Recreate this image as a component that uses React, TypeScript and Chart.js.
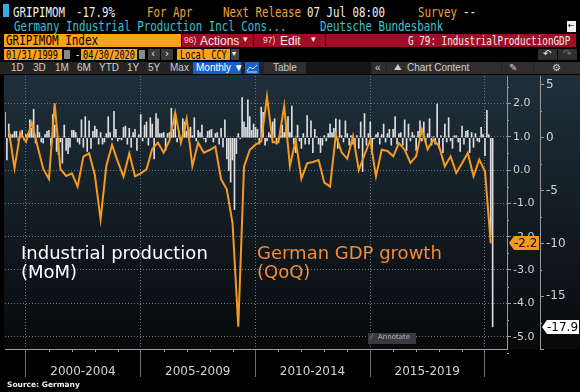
import React, { useEffect, useRef } from 'react';
import { Chart, registerables } from 'chart.js';

Chart.register(...registerables);

// ---------------- DATA ----------------
const START_YEAR = 1999;

// Germany industrial production, MoM %, monthly (Jan 1999 .. Apr 2020)
const ip1999 = [2.4, -2.1, 1.3, 0.3, 0.3, 0.6, 0.6, -0.3, 0.4, 0.7, -0.2, 0.3];
const ip2000 = [0.4, 1.7, 0.9, 2.7, -0.5, 1.2, 0.5, -0.4, -0.5, 0.3, 0.6, 0.7];
const ip2001 = [-0.7, 2.2, 1.2, -1.3, -1.6, -0.4, -2.4, 1.2, -1.2, -1.5, -0.9, 0.7];
const ip2002 = [0.7, 0.5, -0.4, -0.6, 1.7, -0.9, 2.0, -1.3, 1.6, -1.0, 0.6, 1.1];
const ip2003 = [0.8, -0.6, 0.5, -0.6, -0.4, 0.4, 2.0, 0.5, -0.2, 2.5, 0.8, -0.3];
const ip2004 = [-0.1, -0.2, 1.0, 1.1, -0.6, 0.9, -0.9, 0.5, 0.8, -1.2, 0.3, 2.2];
const ip2005 = [-0.3, 1.2, 1.5, -0.7, 1.9, 1.3, -2.0, 2.3, 1.8, 0.4, 0.4, 0.5];
const ip2006 = [-1.2, 0.4, 0.5, 2.8, 0.8, 1.9, -0.4, 0.6, -0.1, 1.8, 1.5, 0.6];
const ip2007 = [0.8, 1.0, 0.2, 1.9, -0.3, 0.7, 0.5, 1.2, -0.1, -0.4, 0.6, 0.7];
const ip2008 = [0.8, -0.4, 0.4, 0.5, -0.6, 0.9, -0.9, 1.7, -2.0, -3.1, -4.2, -2.1];
const ip2009 = [-6.8, -1.5, 0.4, -0.1, 3.8, 1.5, 1.0, 3.6, 2.0, 0.7, 1.3, 1.0];
const ip2010 = [0.8, -0.6, 2.9, 2.4, -0.7, -0.3, 0.5, 0.3, 1.5, 1.8, -0.6, -0.1];
const ip2011 = [0.2, 1.2, 0.5, 1.0, 2.0, 0.5, 3.0, -0.6, -1.4, 1.2, -0.3, -1.0];
const ip2012 = [0.4, -0.6, 2.1, -0.6, 1.6, -1.4, 0.8, 0.1, -0.6, -1.4, -0.7, 0.2];
const ip2013 = [-0.3, 0.4, 1.3, 0.5, 0.9, 1.8, -1.0, 1.7, 0.2, -0.4, 1.6, 0.4];
const ip2014 = [-0.7, 0.2, -0.6, -0.9, 0.2, -1.0, 1.5, -3.2, 2.3, -0.7, 0.4, 1.5];
const ip2015 = [-1.5, -0.1, 0.3, 0.5, -0.6, 0.3, 1.3, -0.4, 0.4, 0.8, -0.7, 0.8];
const ip2016 = [2.0, -0.6, 0.4, 0.5, -0.7, 1.7, -1.2, 1.3, -0.3, 0.5, 0.2, -1.2];
const ip2017 = [0.6, 1.6, -0.3, 1.5, -0.4, 0.4, 1.8, -0.7, 0.1, -0.6, 3.2, -1.0];
const ip2018 = [0.2, -1.4, 1.3, -0.4, 1.9, -0.3, -1.0, 0.2, 0.2, -0.4, -1.3, 1.1];
const ip2019 = [-0.6, 0.6, 0.7, -1.4, 0.5, -0.9, 0.4, -0.3, -0.4, 1.0, 0.3, -1.7];
const ip2020 = [2.6, 0.3, -9.2, -17.9];

const ipMoM = [
  ...ip1999, ...ip2000, ...ip2001, ...ip2002, ...ip2003, ...ip2004, ...ip2005,
  ...ip2006, ...ip2007, ...ip2008, ...ip2009, ...ip2010, ...ip2011, ...ip2012,
  ...ip2013, ...ip2014, ...ip2015, ...ip2016, ...ip2017, ...ip2018, ...ip2019, ...ip2020,
];

// German GDP growth, QoQ %, quarterly (1999 Q1 .. 2020 Q1)
const gdp1999_2003 = [1.2, 0.05, 1.12, 0.85, 1.42, 0.72, 0.04, -0.27, 2.0, 0.03, -0.18, -0.1, -0.5, 0.4, 0.5, -0.15, -1.48, 0.12, 0.75, 0.25];
const gdp2004_2008 = [-0.2, 0.5, -0.19, -0.1, 0.02, 0.63, 0.82, 0.52, 0.88, 1.72, 0.82, 1.54, 0.12, 0.82, 0.52, 0.6, 0.7, -0.28, -0.58, -1.6];
const gdp2009_2013 = [-4.7, 0.1, 0.6, 0.76, 0.86, 2.2, 0.83, 0.83, 1.92, 0.12, 0.9, -0.26, 0.2, 0.24, 0.3, -0.38, -0.5, 1.05, 0.53, 0.34];
const gdp2014_2018 = [1.02, 0.0, 0.45, 0.9, -0.19, 0.61, 0.57, 0.41, 0.81, 0.61, 0.21, 0.41, 1.21, 0.62, 0.91, 0.71, 0.11, 0.41, -0.09, 0.2];
const gdp2019_2020 = [0.51, -0.19, 0.31, -0.04, -2.2];
const gdpQoQ = [...gdp1999_2003, ...gdp2004_2008, ...gdp2009_2013, ...gdp2014_2018, ...gdp2019_2020];

const periodStarts = [2000, 2005, 2010, 2015, 2020];
const periodLabels = ['2000-2004', '2005-2009', '2010-2014', '2015-2019', ''];
const gdpTicks = [-5, -4, -3, -2, -1, 0, 1, 2];
const ipTicks = [-20, -15, -10, -5, 0, 5];

// ---------------- STYLE ----------------
const MONO = '"DejaVu Sans Mono", monospace';
const SANS = '"DejaVu Sans", sans-serif';
const ARIAL = '"Liberation Sans", Arial, sans-serif';
const AMBER = '#f2a23a';
const BOX_ORANGE = '#f8a11c';
const RED = '#a10c27';
const CYAN = '#3fc2d2';
const LINE_ORANGE = '#f59a1f';
const TEXT_ORANGE = '#f28b3a';
const AXIS_GRAY = '#9a9a9a';
const LABEL_GRAY = '#d2d2d2';
const GRID = '#6a777f';

function T(p: any) {
  const s = p.s ?? 14;
  return (
    <div
      style={{
        position: 'absolute', left: p.x, top: p.y, color: p.c ?? '#f0f0f0',
        fontFamily: p.f ?? MONO, fontSize: s, lineHeight: `${p.lh ?? s}px`,
        fontWeight: p.b ? 'bold' : 'normal', transform: `scaleX(${p.sx ?? 1})`,
        transformOrigin: '0 0', whiteSpace: 'pre',
      }}
    >
      {p.children}
    </div>
  );
}

function Box(p: any) {
  return (
    <div style={{ position: 'absolute', left: p.x, top: p.y, width: p.w, height: p.h, background: p.bg }} />
  );
}

const bgPlugin = {
  id: 'bgGradient',
  beforeDraw(chart: any) {
    const { ctx, chartArea } = chart;
    const g = ctx.createLinearGradient(0, chartArea.top, 0, chartArea.bottom);
    g.addColorStop(0, '#1f2f3b');
    g.addColorStop(0.5, '#131d24');
    g.addColorStop(1, '#07090b');
    ctx.save();
    ctx.fillStyle = g;
    ctx.fillRect(4, 0, chart.width - 4, chartArea.bottom);
    ctx.restore();
  },
};

const minorPlugin = {
  id: 'minorTicks',
  afterDraw(chart: any) {
    const { ctx, scales } = chart;
    const x = scales.x, yG = scales.yG, yB = scales.yB;
    ctx.save();
    ctx.strokeStyle = AXIS_GRAY;
    ctx.lineWidth = 1;
    ctx.beginPath();
    for (let v = -5.5; v <= 2.5; v += 1) {
      const y = Math.round(yG.getPixelForValue(v)) + 0.5;
      ctx.moveTo(yG.left, y); ctx.lineTo(yG.left + 2, y);
    }
    for (let v = -17.5; v <= 5; v += 5) {
      const y = Math.round(yB.getPixelForValue(v)) + 0.5;
      ctx.moveTo(yB.left, y); ctx.lineTo(yB.left + 2, y);
    }
    for (let yr = 2000; yr <= 2020; yr++) {
      if (yr % 5 === 0) continue;
      const px = Math.round(x.getPixelForValue(yr)) + 0.5;
      ctx.moveTo(px, x.top); ctx.lineTo(px, x.top + 3);
    }
    ctx.stroke();
    ctx.restore();
  },
};

function drawTag(ctx: any, xTip: number, y: number, w: number, fill: string, text: string, font: string) {
  ctx.beginPath();
  ctx.moveTo(xTip, y);
  ctx.lineTo(xTip + 5, y - 7);
  ctx.lineTo(xTip + w, y - 7);
  ctx.lineTo(xTip + w, y + 7);
  ctx.lineTo(xTip + 5, y + 7);
  ctx.closePath();
  ctx.fillStyle = fill;
  ctx.fill();
  ctx.fillStyle = '#000';
  ctx.font = font;
  ctx.textBaseline = 'middle';
  ctx.textAlign = 'left';
  ctx.fillText(text, xTip + 5, y + 0.5);
}

const tagPlugin = {
  id: 'lastTags',
  afterDraw(chart: any) {
    const { ctx, scales } = chart;
    const lastG = gdpQoQ[gdpQoQ.length - 1];
    const lastB = ipMoM[ipMoM.length - 1];
    ctx.save();
    drawTag(ctx, scales.yG.left + 2, Math.round(scales.yG.getPixelForValue(lastG)), 30, '#f39a1e', lastG.toFixed(1), `12px ${SANS}`);
    drawTag(ctx, scales.yB.left + 2, Math.round(scales.yB.getPixelForValue(lastB)), 37, '#ffffff', lastB.toFixed(1), `12px ${SANS}`);
    ctx.restore();
  },
};

export default function App() {
  const ref = useRef<HTMLCanvasElement>(null);

  useEffect(() => {
    const canvas = ref.current;
    if (!canvas) return;
    const barData = ipMoM.map((v, i) => ({ x: START_YEAR + (i + 1) / 12, y: v }));
    const lineData = gdpQoQ.map((v, i) => ({ x: START_YEAR + (i + 1) * 0.25, y: v }));

    const chart = new Chart(canvas, {
      type: 'bar',
      data: {
        datasets: [
          {
            type: 'line', label: 'German GDP growth (QoQ)', data: lineData,
            xAxisID: 'x', yAxisID: 'yG', borderColor: LINE_ORANGE, borderWidth: 2,
            pointRadius: 0, tension: 0, order: 0, fill: false,
          } as any,
          {
            type: 'bar', label: 'Industrial production (MoM)', data: barData,
            xAxisID: 'x', yAxisID: 'yB', backgroundColor: 'rgba(232,232,232,0.95)',
            barThickness: 1, order: 1,
          } as any,
        ],
      },
      options: {
        animation: false,
        responsive: false,
        devicePixelRatio: 1,
        layout: { padding: { left: 5, top: 1, right: 0, bottom: 0 } },
        plugins: { legend: { display: false }, tooltip: { enabled: false } },
        scales: {
          x: {
            type: 'linear', position: 'bottom', min: 1999.085, max: 2020.959, offset: false,
            afterBuildTicks: (s: any) => { s.ticks = periodStarts.map((v) => ({ value: v })); },
            afterFit: (s: any) => { s.height = 43; s.paddingLeft = 0; s.paddingRight = 0; },
            ticks: {
              autoSkip: false, maxRotation: 0, minRotation: 0, labelOffset: 57, padding: -12,
              color: LABEL_GRAY, font: { family: SANS, size: 12 },
              callback: (v: any) => periodLabels[periodStarts.indexOf(Number(v))] ?? '',
            },
            grid: { offset: false, color: GRID, tickColor: '#6c6c6c', tickLength: 28, tickBorderDash: [] },
            border: { display: true, color: AXIS_GRAY, dash: [1, 2] },
          },
          yG: {
            type: 'linear', position: 'right', weight: 0, min: -5.37, max: 2.82,
            afterBuildTicks: (s: any) => { s.ticks = gdpTicks.map((v) => ({ value: v })); },
            afterFit: (s: any) => { s.width = 33; s.paddingTop = 0; s.paddingBottom = 0; },
            ticks: {
              padding: 2, color: LABEL_GRAY, font: { family: SANS, size: 11 },
              callback: (v: any) => Number(v).toFixed(1),
            },
            grid: { color: GRID, tickColor: AXIS_GRAY, tickLength: 4, tickBorderDash: [] },
            border: { display: true, color: AXIS_GRAY, dash: [1, 2] },
          },
          yB: {
            type: 'linear', position: 'right', weight: 1, min: -20, max: 5.85,
            afterBuildTicks: (s: any) => { s.ticks = ipTicks.map((v) => ({ value: v })); },
            afterFit: (s: any) => { s.width = 40; s.paddingTop = 0; s.paddingBottom = 0; },
            ticks: {
              padding: 2, color: LABEL_GRAY, font: { family: SANS, size: 12 },
              callback: (v: any) => (Number(v) === -20 ? '' : String(v)),
            },
            grid: { drawOnChartArea: false, tickColor: AXIS_GRAY, tickLength: 4 },
            border: { display: true, color: AXIS_GRAY },
          },
        },
      } as any,
      plugins: [bgPlugin, minorPlugin, tagPlugin],
    });
    return () => chart.destroy();
  }, []);

  const tb = { s: 10, f: ARIAL, c: '#cfcfcf', y: 63 };

  return (
    <div style={{ position: 'absolute', left: 0, top: 0, width: 580, height: 392, background: '#000', overflow: 'hidden', fontFamily: SANS }}>
      {/* Row 1 */}
      <Box x={3} y={4} w={6} h={13} bg="#36a8ec" />
      <T x={13} y={5} sx={0.77}>GRIPIMOM</T>
      <T x={76} y={5} sx={0.77}>-17.9%</T>
      <T x={147} y={5} sx={0.77} c={AMBER}>For Apr</T>
      <T x={223} y={5} sx={0.77} c={AMBER}>Next Release</T>
      <T x={307} y={5} sx={0.77}>07 Jul 08:00</T>
      <T x={418} y={5} sx={0.77} c={AMBER}>Survey</T>
      <T x={463} y={5} sx={0.77}>--</T>

      {/* Row 2 */}
      <T x={14} y={19} sx={0.77} c={CYAN}>Germany Industrial Production Incl Cons...</T>
      <T x={320} y={19} sx={0.77} c={CYAN}>Deutsche Bundesbank</T>
      <Box x={567} y={21} w={9} h={11} bg="#eeeeee" />
      <T x={568} y={22} s={8} f={SANS} c="#000">←</T>

      {/* Row 3 */}
      <Box x={4} y={34} w={177} h={13} bg={BOX_ORANGE} />
      <T x={6} y={33} sx={0.78} c="#000">GRIPIMOM Index</T>
      <Box x={182} y={34} w={71} h={13} bg={RED} />
      <T x={184} y={36} s={8.5} f={ARIAL} c="#f3d6d6">96)</T>
      <T x={200} y={34.5} s={12} f={ARIAL}>Actions</T>
      <T x={243} y={35} s={9} f={SANS}>▾</T>
      <Box x={254} y={34} w={71} h={13} bg={RED} />
      <T x={263} y={36} s={8.5} f={ARIAL} c="#f3d6d6">97)</T>
      <T x={280} y={34.5} s={12} f={ARIAL}>Edit</T>
      <T x={311} y={35} s={9} f={SANS}>▾</T>
      <Box x={326} y={34} w={250} h={13} bg={RED} />
      <T x={408} y={33.5} s={13} sx={0.715}>G 79: IndustrialProductionGDP</T>

      {/* Row 4 */}
      <Box x={4} y={49} w={58} h={11} bg={BOX_ORANGE} />
      <T x={6} y={49} s={12} sx={0.72} c="#000">01/31/1999</T>
      <Box x={64} y={50} w={6} h={9} bg="#8a8a8a" />
      <T x={75} y={49} s={12} sx={0.72}>-</T>
      <Box x={81} y={49} w={56} h={11} bg={BOX_ORANGE} />
      <T x={83} y={49} s={12} sx={0.72} c="#000">04/30/2020</T>
      <Box x={139} y={50} w={6} h={9} bg="#8a8a8a" />
      <Box x={148} y={49} w={12} h={11} bg="#3a3a3a" />
      <T x={151} y={49} s={10} f={SANS}>‹</T>
      <Box x={161} y={49} w={12} h={11} bg="#3a3a3a" />
      <T x={165} y={49} s={10} f={SANS}>›</T>
      <Box x={177} y={49} w={53} h={11} bg={BOX_ORANGE} />
      <T x={180} y={49} s={12} sx={0.72} c="#000">Local CCY</T>
      <Box x={231} y={49} w={8} h={11} bg="#444" />
      <T x={232} y={50} s={8} f={SANS}>▾</T>
      <Box x={538} y={49} w={19} h={11} bg="#2e2e2e" />
      <T x={543} y={49} s={10} f={SANS}>↶</T>
      <Box x={558} y={49} w={19} h={11} bg="#2e2e2e" />
      <T x={563} y={49} s={10} f={SANS} c="#777">↷</T>

      {/* Row 5 toolbar */}
      <Box x={0} y={62} w={580} h={12} bg="#242424" />
      <T x={11} {...tb}>1D</T>
      <T x={33} {...tb}>3D</T>
      <T x={55} {...tb}>1M</T>
      <T x={77} {...tb}>6M</T>
      <T x={99} {...tb}>YTD</T>
      <T x={127} {...tb}>1Y</T>
      <T x={148} {...tb}>5Y</T>
      <T x={170} {...tb}>Max</T>
      <Box x={193} y={62} w={48} h={12} bg="#1b5fc9" />
      <T x={196} {...tb} c="#ffffff">Monthly ▼</T>
      <Box x={245} y={62} w={14} h={12} bg="#1b5fc9" />
      <svg style={{ position: 'absolute', left: 246, top: 63 }} width={12} height={10}>
        <polyline points="1,8 4,4 7,6 11,2" fill="none" stroke="#cfe3ff" strokeWidth={1} />
        <line x1={1} y1={9} x2={11} y2={9} stroke="#cfe3ff" strokeWidth={1} />
      </svg>
      <Box x={264} y={62} w={42} h={12} bg="#2e2e2e" />
      <T x={273} {...tb}>Table</T>
      <Box x={306} y={62} w={65} h={12} bg="#161616" />
      <Box x={372} y={62} w={14} h={12} bg="#2e2e2e" />
      <T x={375} {...tb}>«</T>
      <Box x={387} y={62} w={114} h={12} bg="#2e2e2e" />
      <T x={394} {...tb} s={9}>⛰</T>
      <T x={407} {...tb}>Chart Content</T>
      <Box x={502} y={62} w={31} h={12} bg="#2e2e2e" />
      <T x={509} {...tb}>✎</T>
      <Box x={534} y={62} w={46} h={12} bg="#2e2e2e" />
      <T x={552} {...tb}>⚙</T>

      <canvas
        ref={ref}
        width={580}
        height={317}
        style={{ position: 'absolute', left: 0, top: 75, width: 580, height: 317 }}
      />

      {/* Annotations in chart */}
      <T x={21} y={243} s={18} lh={20} f={SANS} c="#ffffff">Industrial production</T>
      <T x={21} y={262} s={18} lh={20} f={SANS} c="#ffffff">(MoM)</T>
      <T x={257} y={243} s={18} lh={20} f={SANS} c={TEXT_ORANGE}>German GDP growth</T>
      <T x={257} y={262} s={18} lh={20} f={SANS} c={TEXT_ORANGE}>(QoQ)</T>

      <Box x={368} y={333} w={48} h={11} bg="rgba(58,62,66,0.95)" />
      <T x={371} y={334} s={7} f={SANS} c="#9a9a9a">⁄</T>
      <T x={378} y={334} s={7} f={SANS} c="#b0b0b0">Annotate</T>

      <T x={7} y={381} s={7.5} f={SANS} b c="#f0f0f0">Source: Germany</T>
    </div>
  );
}
